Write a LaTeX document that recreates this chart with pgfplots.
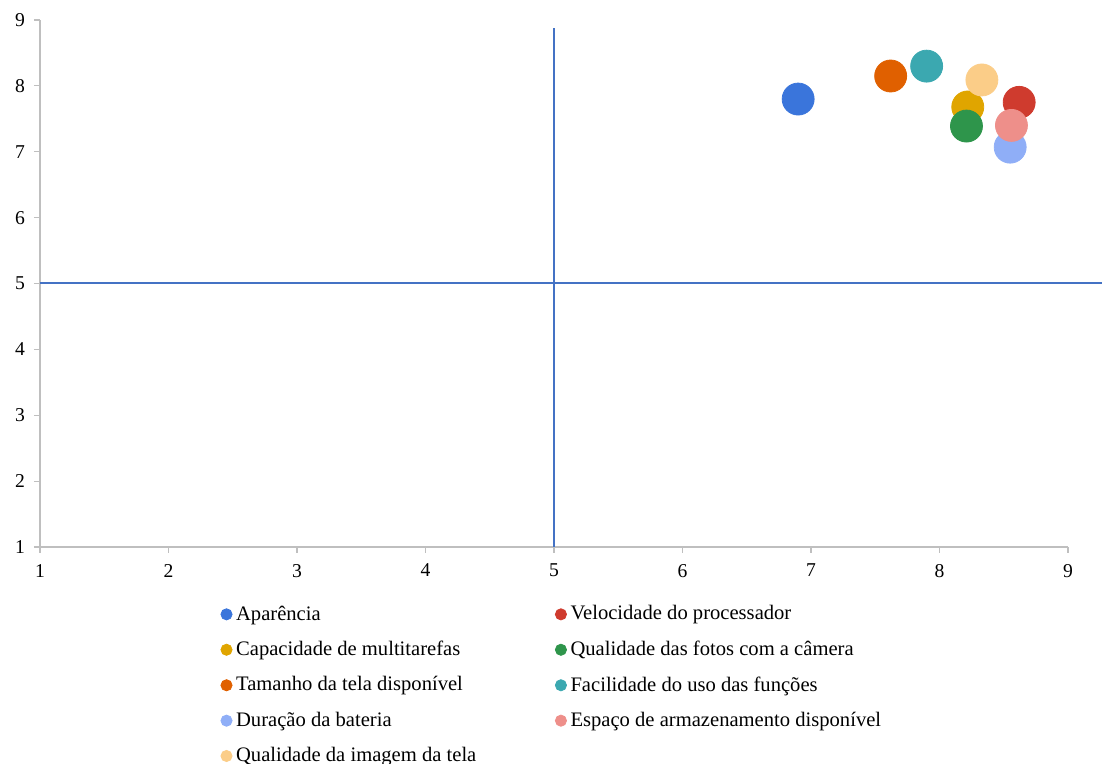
\documentclass[border=0pt]{standalone}
\usepackage{fontspec}
\setmainfont{Liberation Serif}
\usepackage{pgfplots}
\pgfplotsset{compat=1.18}

\definecolor{cAp}{HTML}{3A75DB}
\definecolor{cVel}{HTML}{CF3B2E}
\definecolor{cCap}{HTML}{E0A500}
\definecolor{cFot}{HTML}{2E954B}
\definecolor{cTam}{HTML}{E06000}
\definecolor{cFac}{HTML}{3BA8B0}
\definecolor{cDur}{HTML}{8FAEF7}
\definecolor{cEsp}{HTML}{EE8F8A}
\definecolor{cImg}{HTML}{FBCD88}
\definecolor{quad}{HTML}{4472C4}
\definecolor{axgray}{HTML}{BFBFBF}

\pgfplotsset{
  bubble/.style={only marks, mark=*, mark size=8pt, color=#1, mark options={draw=#1, fill=#1}},
}

\begin{document}
\begin{tikzpicture}
\path[use as bounding box] (-20pt,-108.5pt) rectangle (531pt,273.5pt);
\begin{axis}[
  at={(0pt,0pt)}, anchor=south west,
  scale only axis,
  width=514pt, height=263.5pt,
  xmin=1, xmax=9, ymin=1, ymax=9,
  xtick={1,...,9}, ytick={1,...,9},
  axis x line=bottom, axis y line=left,
  axis line style={-, axgray, line width=0.6pt},
  tick style={axgray, line width=0.6pt},
  tick align=outside,
  major tick length=3pt,
  x tick label style={yshift=-2pt},
  y tick label style={xshift=-1pt},
  /pgf/number format/assume math mode=true,
  tick label style={font=\fontsize{9.8pt}{11pt}\selectfont, text=black},
  clip=false,
  legend columns=2,
  legend cell align=left,
  legend style={
    at={(0.1756,-0.103)}, anchor=north west,
    draw=none, fill=none, inner sep=0pt,
    font=\fontsize{10.3pt}{12pt}\selectfont,
    row sep=5pt,
    /tikz/every even column/.append style={column sep=37.5pt},
  },
  legend image code/.code={\draw[#1, mark size=2.8pt] plot coordinates {(0pt,0pt)};},
]
% quadrant dividers
\addplot[quad, line width=0.8pt, forget plot] coordinates {(5,1) (5,8.88)};
\addplot[quad, line width=0.8pt, forget plot] coordinates {(1,5.005) (9.27,5.005)};

\addplot[bubble=cAp]  coordinates {(6.90,7.80)};
\addlegendentry{Aparência}
\addplot[bubble=cVel] coordinates {(8.62,7.75)};
\addlegendentry{Velocidade do processador}
\addplot[bubble=cCap] coordinates {(8.22,7.68)};
\addlegendentry{Capacidade de multitarefas}
\addplot[bubble=cFot] coordinates {(8.21,7.39)};
\addlegendentry{Qualidade das fotos com a câmera}
\addplot[bubble=cTam] coordinates {(7.62,8.15)};
\addlegendentry{Tamanho da tela disponível}
\addplot[bubble=cFac] coordinates {(7.90,8.30)};
\addlegendentry{Facilidade do uso das funções}
\addplot[bubble=cDur] coordinates {(8.55,7.07)};
\addlegendentry{Duração da bateria}
\addplot[bubble=cEsp] coordinates {(8.56,7.40)};
\addlegendentry{Espaço de armazenamento disponível}
\addplot[bubble=cImg] coordinates {(8.33,8.09)};
\addlegendentry{Qualidade da imagem da tela}
\end{axis}
\end{tikzpicture}
\end{document}
